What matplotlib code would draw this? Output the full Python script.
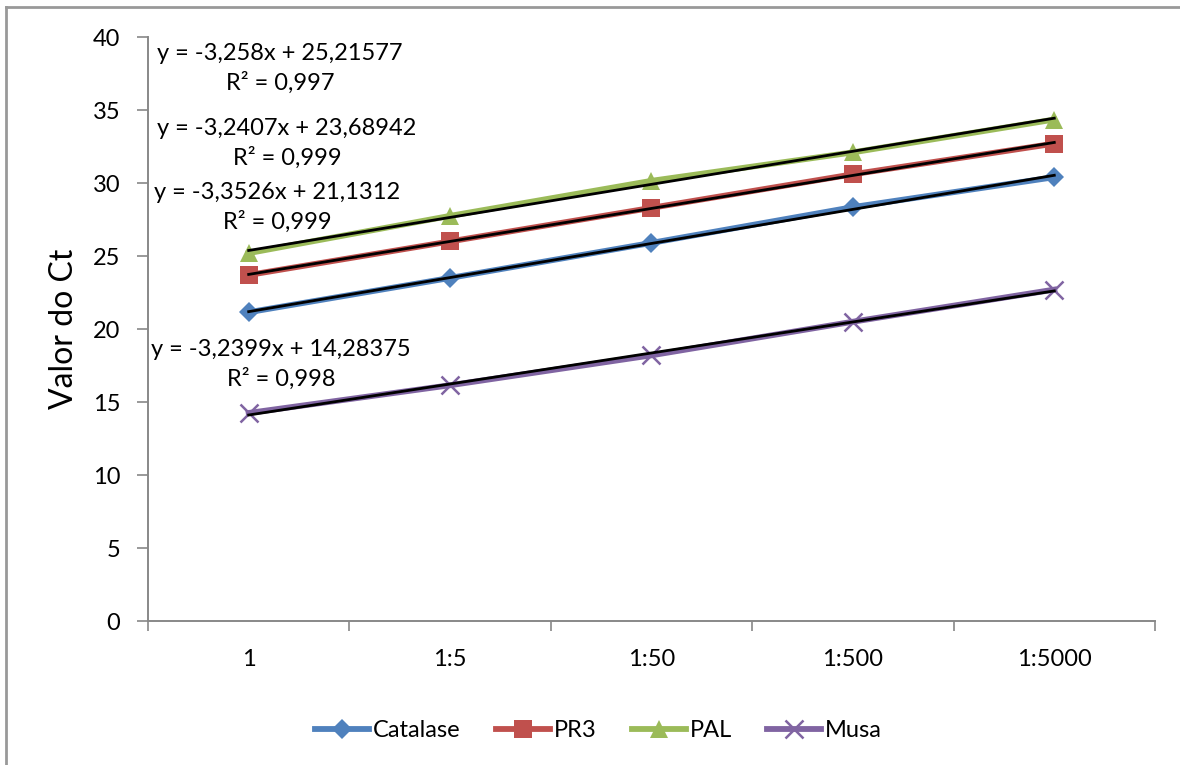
import matplotlib.pyplot as plt
import numpy as np
from matplotlib.lines import Line2D

plt.rcParams['font.family'] = ['Lato', 'DejaVu Sans']

categories = ['1', '1:5', '1:50', '1:500', '1:5000']
catalase = [21.15, 23.5, 25.9, 28.35, 30.4]
pr3 = [23.7, 26.0, 28.3, 30.6, 32.7]
pal = [25.2, 27.75, 30.15, 32.1, 34.35]
musa = [14.25, 16.15, 18.2, 20.5, 22.7]

series_names = ['Catalase', 'PR3', 'PAL', 'Musa']
equations = [
    'y = -3,3526x + 21,1312\nR² = 0,999',
    'y = -3,2407x + 23,68942\nR² = 0,999',
    'y = -3,258x + 25,21577\nR² = 0,997',
    'y = -3,2399x + 14,28375\nR² = 0,998',
]

colors = ['#4F81BD', '#C0504D', '#9BBB59', '#8064A2']
markers = ['D', 's', '^', 'x']
msizes = [10, 13, 13, 13]
# posicao (fracao dos eixos) das equacoes
eq_pos = [(0.128, 0.708), (0.138, 0.818), (0.131, 0.946), (0.132, 0.439)]

fig = plt.figure(figsize=(11.8, 7.65), dpi=100)
ax = fig.add_axes([0.1254, 0.1882, 0.8534, 0.7634])

x = np.arange(len(categories))
handles = []
for vals, name, c, m, ms in zip([catalase, pr3, pal, musa], series_names, colors, markers, msizes):
    mew = 1.8 if m == 'x' else 0
    ax.plot(x, vals, color=c, lw=4.2, marker=m, markersize=ms,
            markeredgewidth=mew, markeredgecolor=c, zorder=3)
    # linha de tendencia
    coef = np.polyfit(x, vals, 1)
    ax.plot(x, np.polyval(coef, x), color='black', lw=2, zorder=4)
    handles.append(Line2D([], [], color=c, lw=4.2, marker=m, markersize=ms,
                          markeredgewidth=mew, markeredgecolor=c))

for eq, (px, py) in zip(equations, eq_pos):
    ax.text(px, py, eq, transform=ax.transAxes, ha='center', va='center',
            multialignment='center', fontsize=17, linespacing=1.4, zorder=5)

ax.set_xlim(-0.5, len(categories) - 0.5)
ax.set_ylim(0, 40)
ax.set_yticks(range(0, 41, 5))
ax.set_xticks(x)
ax.set_xticklabels(categories, fontsize=17)
ax.set_xticks(np.arange(-0.5, len(categories), 1), minor=True)
ax.tick_params(axis='x', which='major', length=0, pad=20)
ax.tick_params(axis='x', which='minor', length=7, width=1.2, color='#888888', direction='out')
ax.tick_params(axis='y', labelsize=17, length=8, width=1.2, color='#888888', pad=12)

for s in ['top', 'right']:
    ax.spines[s].set_visible(False)
for s in ['left', 'bottom']:
    ax.spines[s].set_color('#888888')
    ax.spines[s].set_linewidth(1.4)

ax.set_ylabel('Valor do Ct', fontsize=23, labelpad=10)

fig.legend(handles, series_names, loc='center', bbox_to_anchor=(0.507, 0.045),
           ncol=4, frameon=False, fontsize=17, handlelength=2.3,
           columnspacing=1.5, handletextpad=0.15)

# borda do grafico (apenas topo e esquerda visiveis)
fig.add_artist(Line2D([6 / 1180, 6 / 1180], [0, 1 - 7 / 765], transform=fig.transFigure,
                      color='#999999', lw=2))
fig.add_artist(Line2D([6 / 1180, 1], [1 - 7 / 765, 1 - 7 / 765], transform=fig.transFigure,
                      color='#999999', lw=2))

fig.savefig('out.png', dpi=100)
